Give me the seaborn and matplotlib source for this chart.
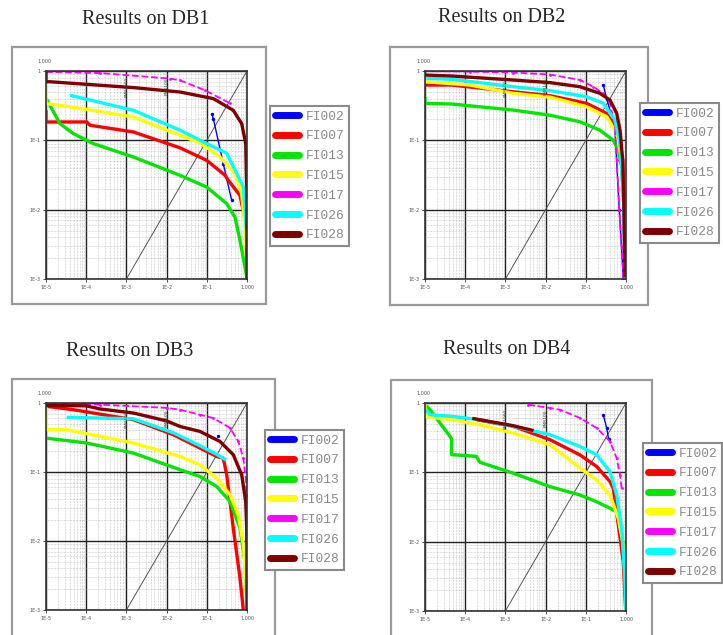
import numpy as np
import matplotlib
matplotlib.use("Agg")
import matplotlib.pyplot as plt
import seaborn as sns
from matplotlib.lines import Line2D
from matplotlib.patches import Rectangle
from matplotlib.ticker import LogLocator, NullFormatter

# algorithms and their colours (legend order)
methods = ["FI002", "FI007", "FI013", "FI015", "FI017", "FI026", "FI028"]
colors = ["#0000ff", "#ff0000", "#00e600", "#ffff00", "#ff00ff", "#00ffff", "#800000"]

x_ticks = [1e-5, 1e-4, 1e-3, 1e-2, 1e-1, 1]
x_labels = ["1E-5", "1E-4", "1E-3", "1E-2", "1E-1", "1.000"]
y_ticks = [1e-3, 1e-2, 1e-1, 1]
y_labels = ["1E-3", "1E-2", "1E-1", "1"]

diag_x = [1e-3, 1]
diag_y = [1e-3, 1]
mark_x = [1e-3, 1e-2]
mark_text = ["FMR1000", "FMR100"]

# curves: name -> (x values, y values); None breaks the line
db1 = {
    "FI002": ([0.132, 0.145, 0.257, 0.416, None, 1.0], [0.243, 0.206, 0.0462, 0.0136, None, 0.001]),
    "FI007": ([1e-5, 1e-5, 1.03e-4, 1.24e-4, 1.49e-3, 0.0215, 0.099, 0.284, 0.343, 0.67, 0.96, 1.0],
              [0.271, 0.184, 0.184, 0.165, 0.132, 0.078, 0.0515, 0.0313, 0.0265, 0.016, 0.006, 0.001]),
    "FI013": ([1e-5, 2.23e-5, 4.78e-5, 1.5e-4, 1.49e-3, 0.0215, 0.099, 0.313, 0.502, 0.67, 0.89, 1.0],
              [0.404, 0.174, 0.125, 0.0897, 0.0575, 0.0313, 0.0212, 0.0122, 0.0078, 0.0036, 0.0015, 0.001]),
    "FI015": ([1e-5, 1e-5, 3.27e-5, 1.49e-3, 0.0215, 0.0678, 0.213, 0.502, 0.738, 0.89, 0.983, 1.0],
              [0.658, 0.339, 0.31, 0.217, 0.118, 0.092, 0.0575, 0.033, 0.017, 0.0056, 0.0019, 0.001]),
    "FI017": ([1e-5, 2.2e-4, 0.0122, 0.0215, 0.09, 0.378],
              [0.967, 0.935, 0.777, 0.734, 0.527, 0.342]),
    "FI026": ([3.95e-5, 1.49e-3, 0.0215, 0.099, 0.313, 0.81, 0.983, 1.0],
              [0.446, 0.271, 0.14, 0.09, 0.065, 0.0212, 0.0046, 0.001]),
    "FI028": ([1e-5, 1e-5, 1.26e-5, 1.49e-3, 0.0215, 0.145, 0.456, 0.738, 0.93, 0.983, 1.0],
              [1.0, 0.70, 0.70, 0.576, 0.498, 0.40, 0.271, 0.174, 0.0897, 0.0172, 0.001]),
}

db2 = {
    "FI002": ([0.272, 0.33, 0.53, 0.68, 0.86], [0.628, 0.40, 0.15, 0.01, 0.001]),
    "FI007": ([1e-5, 4.6e-5, 1.58e-3, 0.0129, 0.105, 0.331, 0.587, 0.828, 0.908, 0.984],
              [0.628, 0.628, 0.502, 0.44, 0.341, 0.245, 0.14, 0.0518, 0.0056, 0.00106]),
    "FI013": ([1e-5, 1e-5, 4.6e-5, 1.58e-3, 0.0129, 0.0718, 0.225, 0.483, 0.643, 0.782, 0.857, 0.944, 1.0],
              [0.425, 0.341, 0.334, 0.273, 0.23, 0.185, 0.14, 0.1, 0.0722, 0.0414, 0.0171, 0.0056, 0.001]),
    "FI015": ([1e-5, 1.3e-4, 1.58e-3, 0.0129, 0.105, 0.331, 0.587, 0.782, 0.891, 0.962, 1.0],
              [0.701, 0.628, 0.476, 0.42, 0.305, 0.219, 0.126, 0.0518, 0.0098, 0.00186, 0.001]),
    "FI017": ([1e-5, 1.3e-4, 1.58e-3, 0.0129, 0.0718, 0.154, 0.272, 0.40, 0.532, 0.587, 0.681, 0.782, 0.857],
              [1.0, 0.98, 0.95, 0.89, 0.741, 0.593, 0.476, 0.341, 0.157, 0.0518, 0.0098, 0.0029, 0.00106]),
    "FI026": ([1e-5, 4.6e-5, 1.58e-3, 0.0129, 0.105, 0.272, 0.532, 0.71, 0.857, 0.944, 1.0],
              [0.784, 0.759, 0.593, 0.52, 0.425, 0.341, 0.196, 0.0902, 0.0171, 0.00186, 0.001]),
    "FI028": ([1e-5, 4.6e-5, 1.58e-3, 0.0129, 0.0718, 0.225, 0.40, 0.587, 0.71, 0.828, 0.891, 0.944],
              [0.875, 0.847, 0.741, 0.68, 0.593, 0.476, 0.381, 0.245, 0.14, 0.0518, 0.0098, 0.00106]),
}

db3 = {
    "FI002": ([0.187, None, 1.0], [0.328, None, 0.001]),
    "FI007": ([1e-5, 4.78e-5, 1.49e-3, 0.0147, 0.0678, 0.176, 0.257, 0.313, 0.456, 0.67, 0.81],
              [0.895, 0.80, 0.573, 0.347, 0.222, 0.168, 0.159, 0.091, 0.0153, 0.0029, 0.001]),
    "FI013": ([1e-5, 1.03e-4, 1.49e-3, 0.0215, 0.0678, 0.176, 0.378, 0.67, 0.89, 0.983, 1.0],
              [0.31, 0.263, 0.188, 0.108, 0.086, 0.0616, 0.0373, 0.0153, 0.005, 0.00165, 0.001]),
    "FI015": ([1e-5, 1e-5, 3.27e-5, 1.49e-3, 0.01, 0.0215, 0.0678, 0.176, 0.378, 0.608, 0.81, 0.944, 1.0],
              [1.0, 0.41, 0.41, 0.263, 0.19, 0.168, 0.127, 0.0815, 0.0467, 0.0239, 0.0088, 0.0026, 0.001]),
    "FI017": ([1e-5, 2.2e-4, 0.01, 0.0215, 0.0678, 0.145, 0.378, 0.608, 0.81, 0.93, 0.983],
              [1.0, 0.946, 0.85, 0.80, 0.676, 0.605, 0.434, 0.277, 0.159, 0.0815, 0.047]),
    "FI026": ([3.27e-5, 1.49e-3, 0.0147, 0.0678, 0.176, 0.3],
              [0.62, 0.59, 0.37, 0.24, 0.18, 0.15]),
    "FI028": ([1e-5, 1e-5, 1e-4, 2.2e-4, 1.49e-3, 0.01, 0.0215, 0.0678, 0.213, 0.456, 0.738, 0.93, 0.983, 1.0],
              [1.0, 0.92, 0.91, 0.82, 0.716, 0.55, 0.457, 0.387, 0.277, 0.178, 0.091, 0.0373, 0.0153, 0.001]),
}

db4 = {
    "FI002": ([0.272, 0.331, 0.37, None, 1.0], [0.677, 0.435, 0.30, None, 0.001]),
    "FI007": ([1.93e-4, 1.58e-3, 0.0129, 0.0718, 0.187, 0.40, 0.483, 0.857, 0.984],
              [0.574, 0.46, 0.295, 0.178, 0.121, 0.0735, 0.0589, 0.0051, 0.001]),
    "FI013": ([1e-5, 1.33e-5, 4.19e-5, 4.6e-5, 4.6e-5, 1.9e-4, 2.3e-4, 1.58e-3, 0.0129, 0.0718, 0.187,
               0.40, 0.587, 0.71, 0.857, 0.944, 1.0],
              [0.95, 0.80, 0.33, 0.30, 0.18, 0.17, 0.14, 0.097, 0.0622, 0.0471, 0.0376,
               0.0303, 0.027, 0.0188, 0.0089, 0.0029, 0.001]),
    "FI015": ([1e-5, 1e-5, 4.6e-5, 2.33e-4, 1.58e-3, 0.0129, 0.0718, 0.187, 0.40, 0.643, 0.857, 0.99, 1.0],
              [1.0, 0.64, 0.574, 0.486, 0.368, 0.249, 0.115, 0.0776, 0.0471, 0.0217, 0.0089, 0.0026, 0.001]),
    "FI017": ([3.7e-3, 0.0129, 0.0228, 0.0718, 0.187, 0.40, 0.587, 0.71, 0.78],
              [0.946, 0.846, 0.80, 0.607, 0.435, 0.278, 0.16, 0.0917, 0.059]),
    "FI026": ([1e-5, 1.33e-5, 4.6e-5, 2.33e-4, 1.58e-3, 0.0129, 0.0718, 0.187, 0.40, 0.587, 0.782, 0.944, 1.0],
              [0.80, 0.678, 0.641, 0.574, 0.46, 0.348, 0.236, 0.179, 0.102, 0.0471, 0.0156, 0.0029, 0.001]),
    "FI028": ([1.5e-4, 1.58e-3, 5e-3], [0.60, 0.47, 0.40]),
}

sns.set_style("white")
plt.rcParams["font.family"] = ["DejaVu Sans"]

W, H = 723, 635
fig = plt.figure(figsize=(W / 100, H / 100), dpi=100)

# title, data, plot box, outer frame, legend corner, title centre (pixels)
panels = [
    ("Results on DB1", db1, (46, 71, 247, 279), (12, 47, 266, 304), (270, 106), (146, 19)),
    ("Results on DB2", db2, (425, 71, 626, 279), (390, 47, 648, 305), (640, 103), (502, 18)),
    ("Results on DB3", db3, (46, 403, 247, 610), (12, 379, 275, 645), (265, 430), (130, 352)),
    ("Results on DB4", db4, (425, 403, 626, 611), (391, 380, 652, 645), (643, 443), (507, 350)),
]


def segments(xs, ys):
    sx, sy = [], []
    for a, b in zip(xs, ys):
        if a is None:
            if sx:
                yield sx, sy
            sx, sy = [], []
        else:
            sx.append(a)
            sy.append(b)
    if sx:
        yield sx, sy


for title, db, (l, t, r, b), (fl, ft, fr, fb), (lx, ly), (tx, ty) in panels:
    fig.add_artist(Rectangle((fl / W, 1 - fb / H), (fr - fl) / W, (fb - ft) / H,
                             transform=fig.transFigure, fill=False, ec="#9a9a9a", lw=1.6, zorder=-1))
    fig.text(tx / W, 1 - ty / H, title, ha="center", va="center",
             family="Liberation Serif", size=14.5)

    ax = fig.add_axes([l / W, 1 - b / H, (r - l) / W, (b - t) / H])
    ax.set_xscale("log")
    ax.set_yscale("log")

    sns.lineplot(x=diag_x, y=diag_y, ax=ax, color="#555555", lw=0.7, legend=False)

    for name, color in zip(methods, colors):
        xs, ys = db[name]
        if name == "FI017":
            style = dict(lw=1.3, linestyle="--", marker="o", markersize=2, markeredgewidth=0)
        elif name == "FI002":
            style = dict(lw=1.0, marker="o", markersize=2.5, markeredgewidth=0)
        else:
            style = dict(lw=2.4, solid_capstyle="butt")
        for sx, sy in segments(xs, ys):
            sns.lineplot(x=sx, y=sy, ax=ax, color=color, sort=False, estimator=None,
                         legend=False, **style)

    for mx, mt in zip(mark_x, mark_text):
        ax.text(mx, 0.6, mt, rotation=90, ha="center", va="center", fontsize=3.2, color="#444444")

    ax.set_xlim(1e-5, 1)
    ax.set_ylim(1e-3, 1)
    ax.xaxis.set_minor_locator(LogLocator(base=10, subs=np.arange(2, 10) * 1.0, numticks=30))
    ax.yaxis.set_minor_locator(LogLocator(base=10, subs=np.arange(2, 10) * 1.0, numticks=30))
    ax.xaxis.set_minor_formatter(NullFormatter())
    ax.yaxis.set_minor_formatter(NullFormatter())
    ax.set_xticks(x_ticks)
    ax.set_xticklabels(x_labels)
    ax.set_yticks(y_ticks)
    ax.set_yticklabels(y_labels)
    ax.set_axisbelow(True)
    ax.grid(True, which="major", color="#222222", lw=1.0)
    ax.grid(True, which="minor", color="#9a9a9a", lw=0.4, ls=":")
    ax.tick_params(which="major", bottom=True, left=True, length=2, width=0.6, color="#333333",
                   labelsize=3.5, labelcolor="#555555", pad=2)
    ax.tick_params(which="minor", length=0)
    ax.set_xlabel("")
    ax.set_ylabel("")
    for s in ax.spines.values():
        s.set_color("#333333")
        s.set_linewidth(1.2)
    ax.text(-0.01, 1.045, "1.000", transform=ax.transAxes, ha="center", va="center",
            fontsize=3.5, color="#555555")

    handles = [Line2D([0], [0], color=c, lw=5, solid_capstyle="round") for c in colors]
    leg = ax.legend(handles, methods, loc="upper left", bbox_to_anchor=(lx / W, 1 - ly / H),
                    bbox_transform=fig.transFigure, frameon=True, fancybox=False, framealpha=1,
                    edgecolor="#8a8a8a", borderpad=0.35, labelspacing=0.6, handlelength=1.9,
                    handletextpad=0.5, borderaxespad=0,
                    prop={"family": "Liberation Mono", "size": 9.3})
    leg.get_frame().set_linewidth(1.5)
    for txt in leg.get_texts():
        txt.set_color("#8a8a8a")

fig.savefig("out.png", dpi=100)
